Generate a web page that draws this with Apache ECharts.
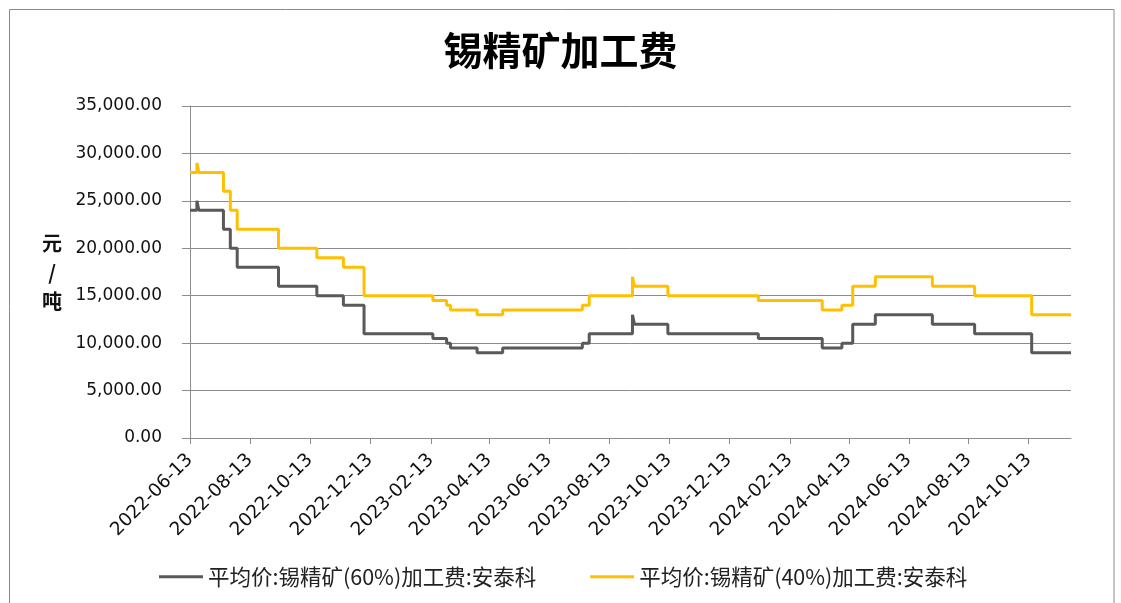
<!DOCTYPE html>
<html>
<head>
<meta charset="utf-8">
<script src="https://cdn.jsdelivr.net/npm/echarts@6/dist/echarts.min.js"></script>
<style>
html,body{margin:0;padding:0;background:#fff;}
#chart{width:1121px;height:603px;}
</style>
</head>
<body>
<div id="chart"></div>
<script>
// ---- data ----
const titleText = '锡精矿加工费';
const seriesNames = ['平均价:锡精矿(60%)加工费:安泰科', '平均价:锡精矿(40%)加工费:安泰科'];
// dates at which the price level changes (value holds until the next date)
const changeDates = [
  '2022-06-13','2022-06-20','2022-06-22','2022-07-17','2022-07-24','2022-07-31',
  '2022-09-11','2022-10-20','2022-11-16','2022-12-07','2023-02-15','2023-03-01',
  '2023-03-05','2023-04-01','2023-04-27','2023-07-17','2023-07-24','2023-09-06',
  '2023-09-08','2023-10-12','2024-01-12','2024-03-17','2024-04-06','2024-04-17',
  '2024-05-10','2024-07-07','2024-08-19','2024-10-16','2024-11-25'
];
const values60 = [
  24000,25000,24000,22000,20000,18000,
  16000,15000,14000,11000,10500,10000,
  9500,9000,9500,10000,11000,13000,
  12000,11000,10500,9500,10000,12000,
  13000,12000,11000,9000,9000
];
const values40 = [
  28000,29000,28000,26000,24000,22000,
  20000,19000,18000,15000,14500,14000,
  13500,13000,13500,14000,15000,17000,
  16000,15000,14500,13500,14000,16000,
  17000,16000,15000,13000,13000
];
const tickLabels = [
  '2022-06-13','2022-08-13','2022-10-13','2022-12-13','2023-02-13','2023-04-13',
  '2023-06-13','2023-08-13','2023-10-13','2023-12-13','2024-02-13','2024-04-13',
  '2024-06-13','2024-08-13','2024-10-13'
];
const axisStart = '2022-06-13';
const axisEnd = '2024-11-25';
const yMin = 0, yMax = 35000, yStep = 5000;

// ---- helpers ----
function toTs(s){ const p = s.split('-').map(Number); return Date.UTC(p[0], p[1]-1, p[2]); }
function pad(n){ return (n < 10 ? '0' : '') + n; }
function fmtDate(v){ const d = new Date(v); return d.getUTCFullYear() + '-' + pad(d.getUTCMonth()+1) + '-' + pad(d.getUTCDate()); }
function fmtNum(v){
  const s = Math.round(v).toString().replace(/\B(?=(\d{3})+(?!\d))/g, ',');
  return s + '.00';
}
const tickTs = tickLabels.map(toTs);
const data60 = changeDates.map((d,i)=>[toTs(d), values60[i]]);
const data40 = changeDates.map((d,i)=>[toTs(d), values40[i]]);

const gridColor = '#8c8c8c';
const chart = echarts.init(document.getElementById('chart'), null, {renderer:'canvas'});
chart.setOption({
  animation: false,
  backgroundColor: '#ffffff',
  title: {
    text: titleText,
    left: 'center',
    top: 31,
    padding: 0,
    textStyle: { fontFamily: 'Noto Sans CJK SC', fontSize: 39, fontWeight: 'bold', color: '#000' }
  },
  graphic: [{
    type: 'rect',
    shape: { x: 9.5, y: 9.5, width: 1104.5, height: 620 },
    style: { fill: 'none', stroke: '#8a8a8a', lineWidth: 1 },
    silent: true
  }],
  legend: {
    left: 159,
    top: 566,
    padding: 0,
    icon: 'rect',
    itemWidth: 44,
    itemHeight: 3,
    itemGap: 54,
    textStyle: { fontFamily: 'Noto Sans CJK SC', fontSize: 21.5, color: '#222' },
    data: seriesNames
  },
  grid: { left: 190, right: 50, top: 106, bottom: 165, containLabel: false },
  xAxis: {
    type: 'value',
    min: toTs(axisStart),
    max: toTs(axisEnd),
    axisLine: { show: true, onZero: false, lineStyle: { color: gridColor, width: 1 } },
    axisTick: { show: true, length: 6, inside: false, customValues: tickTs, lineStyle: { color: gridColor } },
    axisLabel: {
      customValues: tickTs,
      rotate: 45,
      margin: 19,
      fontFamily: 'DejaVu Sans',
      fontSize: 18.5,
      color: '#111',
      formatter: v => fmtDate(v)
    },
    splitLine: { show: false }
  },
  yAxis: {
    type: 'value',
    min: yMin,
    max: yMax,
    interval: yStep,
    name: '元\n/\n吨',
    nameLocation: 'middle',
    nameRotate: 0,
    nameGap: 138,
    nameTextStyle: { fontFamily: 'Noto Sans CJK SC', fontSize: 20, fontWeight: 'bold', color: '#111', lineHeight: 29, align: 'center', verticalAlign: 'middle' },
    axisLine: { show: true, lineStyle: { color: gridColor, width: 1 } },
    axisTick: { show: true, length: 8, inside: false, lineStyle: { color: gridColor } },
    axisLabel: { margin: 28, fontFamily: 'DejaVu Sans', fontSize: 17, color: '#111', formatter: v => fmtNum(v) },
    splitLine: { show: true, lineStyle: { color: gridColor, width: 1 } }
  },
  series: [
    {
      name: seriesNames[0], type: 'line', step: 'end', symbol: 'none',
      data: data60, color: '#595959',
      lineStyle: { width: 3, color: '#595959' }
    },
    {
      name: seriesNames[1], type: 'line', step: 'end', symbol: 'none',
      data: data40, color: '#FFC000',
      lineStyle: { width: 3, color: '#FFC000' }
    }
  ]
});
</script>
</body>
</html>
